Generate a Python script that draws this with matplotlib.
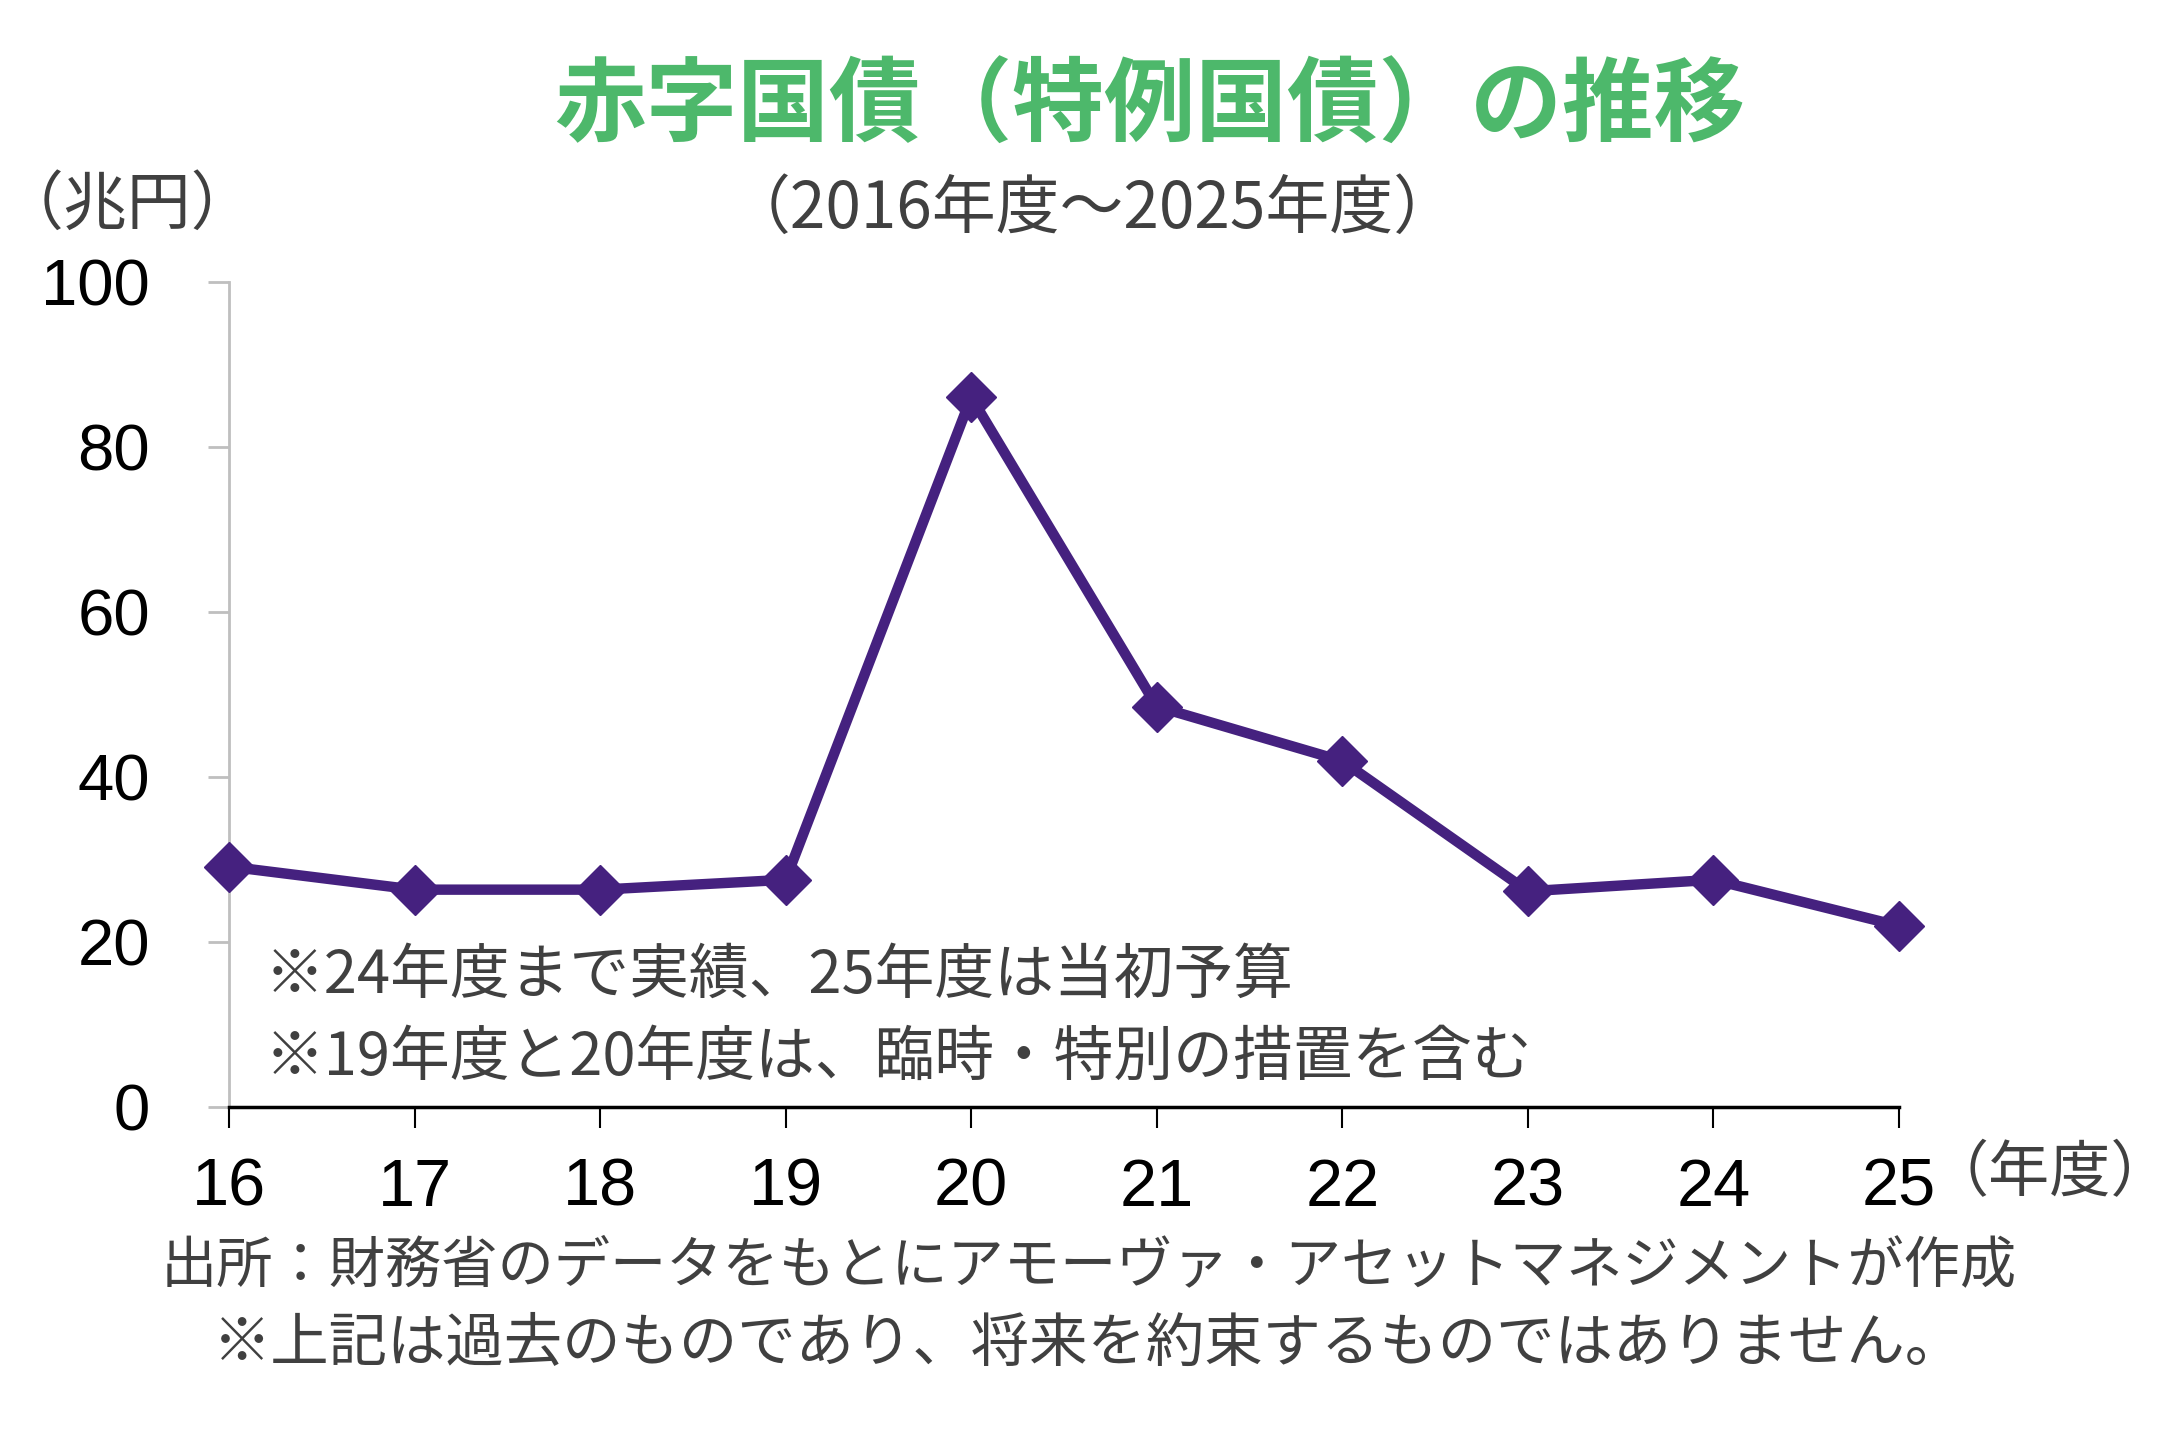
import numpy as np
import matplotlib.pyplot as plt

plt.rcParams['font.family'] = ['Noto Sans CJK JP', 'DejaVu Sans']

# データ（兆円）
years = ['16', '17', '18', '19', '20', '21', '22', '23', '24', '25']
values = [29.1, 26.3, 26.3, 27.5, 86.0, 48.5, 41.9, 26.1, 27.5, 21.9]
yticks = [0, 20, 40, 60, 80, 100]

title = '赤字国債（特例国債）の推移'
subtitle = '（2016年度～2025年度）'
notes = ['※24年度まで実績、25年度は当初予算',
         '※19年度と20年度は、臨時・特別の措置を含む']
footer = ['出所：財務省のデータをもとにアモーヴァ・アセットマネジメントが作成',
          '※上記は過去のものであり、将来を約束するものではありません。']

W, H = 2177, 1439
fig = plt.figure(figsize=(W / 100, H / 100), dpi=100)
ax = fig.add_axes([229 / W, 1 - 1106.6 / H, (1899 - 229) / W, (1106.6 - 281.7) / H])

purple = '#45217F'
green = '#4DB86B'
gray_txt = '#404040'

x = np.arange(len(years))
ax.plot(x, values, color=purple, lw=7.5, marker='D', ms=25,
        markerfacecolor=purple, markeredgecolor=purple, clip_on=False, zorder=3)

ax.set_xlim(0, len(years) - 1)
ax.set_ylim(0, 100)
ax.set_xticks(x)
ax.set_xticklabels(years, family='Liberation Sans', fontsize=48)
ax.set_yticks(yticks)
ax.set_yticklabels([str(v) for v in yticks], family='Liberation Sans', fontsize=47)

for s in ['top', 'right']:
    ax.spines[s].set_visible(False)
ax.spines['left'].set_color('#BFBFBF')
ax.spines['left'].set_linewidth(2)
ax.spines['bottom'].set_color('black')
ax.spines['bottom'].set_linewidth(2.5)
ax.spines['bottom'].set_zorder(4)
ax.tick_params(axis='y', length=15, width=2, color='#BFBFBF', pad=42, labelcolor='black')
ax.tick_params(axis='x', length=15, width=1.5, color='black', pad=22, labelcolor='black')

# タイトル類
fig.text(1150 / W, 1 - 108 / H, title, ha='center', va='center',
         fontsize=66, fontweight='bold', color=green)
fig.text(1092 / W, 1 - 210 / H, subtitle, ha='center', va='center',
         fontsize=46, color=gray_txt)
fig.text(0.0, 1 - 206 / H, '（兆円）', ha='left', va='center',
         fontsize=46, color=gray_txt)
fig.text(2050 / W, 1 - 1174 / H, '（年度）', ha='center', va='center',
         fontsize=44, color=gray_txt)

# 注記
fig.text(265 / W, 1 - 976 / H, notes[0], ha='left', va='center', fontsize=43, color=gray_txt)
fig.text(265 / W, 1 - 1058 / H, notes[1], ha='left', va='center', fontsize=43, color=gray_txt)

# 出所
fig.text(0.5, 1 - 1266 / H, footer[0], ha='center', va='center', fontsize=40.5, color=gray_txt)
fig.text(0.5, 1 - 1344 / H, footer[1], ha='center', va='center', fontsize=42, color=gray_txt)

fig.savefig('out.png', dpi=100)
